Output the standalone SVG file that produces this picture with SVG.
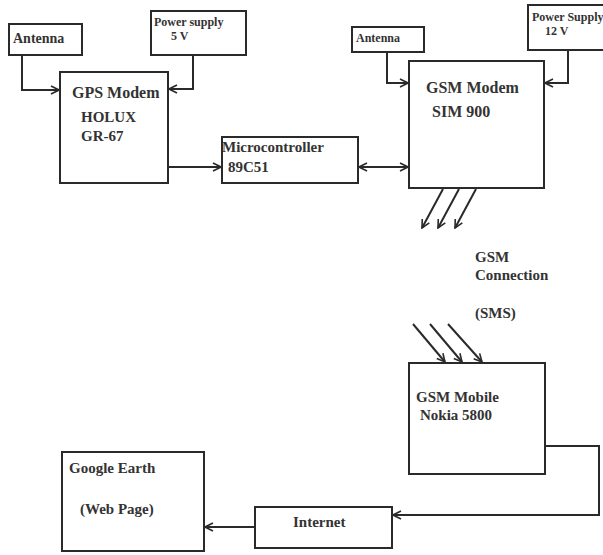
<svg xmlns="http://www.w3.org/2000/svg" width="603" height="555" viewBox="0 0 603 555">
<defs>
<style>
.box{fill:#fff;stroke:#2a2a2a;stroke-width:2}
.ln{fill:none;stroke:#2a2a2a;stroke-width:2}
text{font-family:"Liberation Serif","Times New Roman",serif;font-weight:bold;fill:#333}
.s12{font-size:12px}
.s14{font-size:14px}
.s15{font-size:15px}
.s16{font-size:16px}
</style>
<marker id="ah" viewBox="0 0 10 10" refX="9" refY="5" markerWidth="10" markerHeight="10" markerUnits="userSpaceOnUse" orient="auto-start-reverse">
<path d="M1,1 L9,5 L1,9" fill="none" stroke="#2a2a2a" stroke-width="1.6"/>
</marker>
</defs>
<rect width="603" height="555" fill="#fff"/>

<g id="connectors">
<path class="ln" d="M22,55 V90 H59" marker-end="url(#ah)"/>
<path class="ln" d="M193,55 V89 H169" marker-end="url(#ah)"/>
<path class="ln" d="M387,52 V83 H408" marker-end="url(#ah)"/>
<path class="ln" d="M568,50 V83 H545" marker-end="url(#ah)"/>
<path class="ln" d="M168,167 H221" marker-end="url(#ah)"/>
<path class="ln" d="M359,167 H408" marker-start="url(#ah)" marker-end="url(#ah)"/>
<path class="ln" d="M443,189 L422,228" marker-end="url(#ah)"/>
<path class="ln" d="M459,189 L438,228" marker-end="url(#ah)"/>
<path class="ln" d="M476,189 L455,228" marker-end="url(#ah)"/>
<path class="ln" d="M413,324 L445,362" marker-end="url(#ah)"/>
<path class="ln" d="M430,324 L462,362" marker-end="url(#ah)"/>
<path class="ln" d="M448,324 L482,362" marker-end="url(#ah)"/>
<path class="ln" d="M545,446 H599 V515 H393" marker-end="url(#ah)"/>
<path class="ln" d="M255,527 H205" marker-end="url(#ah)"/>
</g>

<g id="antenna1">
<rect class="box" x="9" y="24" width="73" height="31"/>
<text class="s14" x="13" y="43">Antenna</text>
</g>
<g id="power5v">
<rect class="box" x="151" y="11" width="95" height="44"/>
<text class="s12" x="154" y="26">Power supply</text>
<text class="s12" x="171" y="40">5 V</text>
</g>
<g id="gps">
<rect class="box" x="60" y="72" width="108" height="111"/>
<text class="s16" x="72" y="98">GPS Modem</text>
<text class="s15" x="81" y="122">HOLUX</text>
<text class="s15" x="81" y="141">GR-67</text>
</g>
<g id="micro">
<rect class="box" x="222" y="137" width="136" height="46"/>
<text class="s15" x="222" y="152">Microcontroller</text>
<text class="s15" x="228" y="172">89C51</text>
</g>
<g id="antenna2">
<rect class="box" x="352" y="27" width="72" height="25"/>
<text class="s12" x="356" y="42">Antenna</text>
</g>
<g id="power12v">
<rect class="box" x="528" y="5" width="84" height="45"/>
<text class="s12" x="532" y="21">Power Supply</text>
<text class="s12" x="545" y="35">12 V</text>
</g>
<g id="gsm-modem">
<rect class="box" x="409" y="61" width="135" height="127"/>
<text class="s16" x="426" y="93">GSM Modem</text>
<text class="s16" x="432" y="117">SIM 900</text>
</g>
<g id="gsm-connection">
<text class="s15" x="475" y="262">GSM</text>
<text class="s15" x="475" y="280">Connection</text>
<text class="s15" x="475" y="318">(SMS)</text>
</g>
<g id="gsm-mobile">
<rect class="box" x="409" y="363" width="136" height="111"/>
<text class="s15" x="416" y="402">GSM Mobile</text>
<text class="s15" x="420" y="420">Nokia 5800</text>
</g>
<g id="internet">
<rect class="box" x="255" y="507" width="137" height="41"/>
<text class="s15" x="293" y="527">Internet</text>
</g>
<g id="google-earth">
<rect class="box" x="62" y="452" width="142" height="99"/>
<text class="s15" x="69" y="473">Google Earth</text>
<text class="s15" x="80" y="514">(Web Page)</text>
</g>
</svg>
